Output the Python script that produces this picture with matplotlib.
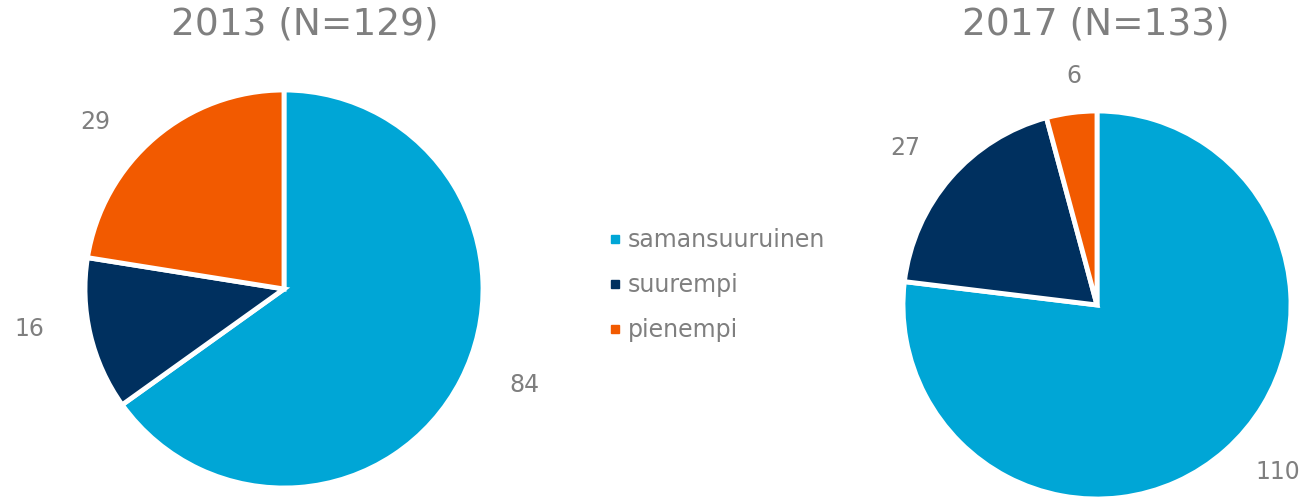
import matplotlib
matplotlib.use("Agg")
import matplotlib.pyplot as plt
from matplotlib.lines import Line2D

categories = ["samansuuruinen", "suurempi", "pienempi"]
values_2013 = [84, 16, 29]
values_2017 = [110, 27, 6]
titles = ["2013 (N=129)", "2017 (N=133)"]

colors = ["#00A6D6", "#00305F", "#F25A00"]
gray = "#7F7F7F"
plt.rcParams["font.family"] = ["DejaVu Sans"]

W, H = 1303, 497
fig = plt.figure(figsize=(W / 100, H / 100), dpi=100)

SPAN = 1.6

def pie_axes(cx, cy_top, r, span=SPAN):
    size = 2 * span * r
    left = (cx - span * r) / W
    bottom = (H - cy_top - span * r) / H
    ax = fig.add_axes([left, bottom, size / W, size / H])
    return ax

# label offsets in radius units (layout only)
label_pos_2013 = [(1.21, -0.48), (-1.28, -0.20), (-0.95, 0.84)]
label_pos_2017 = [(0.93, -0.86), (-0.99, 0.81), (-0.12, 1.18)]

specs = [
    (284, 289, 199, values_2013, label_pos_2013, titles[0], 305),
    (1097, 305, 194, values_2017, label_pos_2017, titles[1], 1096),
]
for cx, cy, r, vals, lpos, title, tx in specs:
    ax = pie_axes(cx, cy, r)
    ax.pie(vals, colors=colors, startangle=90, counterclock=False, radius=1,
           wedgeprops=dict(edgecolor="white", linewidth=3.5))
    ax.set_xlim(-SPAN, SPAN)
    ax.set_ylim(-SPAN, SPAN)
    ax.set_aspect("equal")
    ax.axis("off")
    for v, (x, y) in zip(vals, lpos):
        ax.text(x, y, str(v), ha="center", va="center", fontsize=17, color=gray)
    fig.text(tx / W, 1 - 24 / H, title, ha="center", va="center",
             fontsize=27, color=gray)

handles = [Line2D([], [], marker="s", linestyle="none", markersize=6,
                  markerfacecolor=c, markeredgecolor=c) for c in colors]
leg = fig.legend(handles, categories, loc="center left",
                 bbox_to_anchor=(596 / W, 1 - 285 / H), frameon=False,
                 fontsize=17, labelcolor=gray, handlelength=0.6,
                 handletextpad=0.25, labelspacing=0.88, borderpad=0)

fig.savefig("out.png", dpi=100)
